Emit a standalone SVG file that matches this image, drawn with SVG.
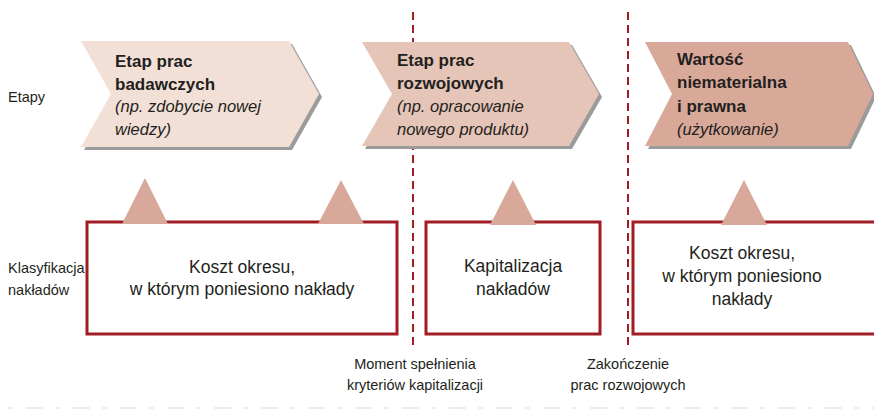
<svg xmlns="http://www.w3.org/2000/svg" width="874" height="409" viewBox="0 0 874 409">
<style>
  text { font-family: "Liberation Sans", Arial, sans-serif; fill: #231f20; }
  .lbl { font-size: 14.5px; }
  .bold { font-size: 17px; font-weight: bold; }
  .ital { font-size: 16.5px; font-style: italic; }
  .box { fill: #ffffff; stroke: #a01d24; stroke-width: 3; }
  .tri { fill: #d8a99a; }
  .shadow { fill: #9b9b9b; }
  .boxtxt { font-size: 17.5px; text-anchor: middle; }
  .mile { font-size: 14.5px; text-anchor: middle; }
  .dash { stroke: #a01d24; stroke-width: 2; stroke-dasharray: 8 5; fill: none; }
</style>
<rect width="874" height="409" fill="#ffffff"/>
<path d="M8,408 H874" stroke="#ececec" stroke-width="2" stroke-dasharray="5 13 17 12"/>
<g id="connectors">
  <line class="dash" x1="413" y1="12" x2="413" y2="345"/>
  <line class="dash" x1="628" y1="12" x2="628" y2="345"/>
</g>
<text class="lbl" x="8" y="102">Etapy</text>
<text class="lbl" x="8" y="273">Klasyfikacja</text>
<text class="lbl" x="8" y="295">nakładów</text>
<g id="stage1">
  <path class="shadow" transform="translate(3,3)" d="M81,41 L289,41 L319,94 L289,147 L81,147 L111,94 Z"/>
  <path fill="#f2e0d7" d="M81,41 L289,41 L319,94 L289,147 L81,147 L111,94 Z"/>
  <text class="bold" x="115" y="67">Etap prac</text>
  <text class="bold" x="115" y="90">badawczych</text>
  <text class="ital" x="115" y="112">(np. zdobycie nowej</text>
  <text class="ital" x="115" y="135">wiedzy)</text>
</g>
<g id="stage2">
  <path class="shadow" transform="translate(3,3)" d="M362,42 L569,42 L599,94 L569,146 L362,146 L392,94 Z"/>
  <path fill="#e5c5b8" d="M362,42 L569,42 L599,94 L569,146 L362,146 L392,94 Z"/>
  <text class="bold" x="397" y="66">Etap prac</text>
  <text class="bold" x="397" y="89">rozwojowych</text>
  <text class="ital" x="397" y="112">(np. opracowanie</text>
  <text class="ital" x="397" y="135">nowego produktu)</text>
</g>
<g id="stage3">
  <path class="shadow" transform="translate(3,3)" d="M645,42 L848,42 L873,94 L848,146 L645,146 L672,94 Z"/>
  <path fill="#d8a899" d="M645,42 L848,42 L873,94 L848,146 L645,146 L672,94 Z"/>
  <text class="bold" x="677" y="65">Wartość</text>
  <text class="bold" x="677" y="88">niematerialna</text>
  <text class="bold" x="677" y="112">i prawna</text>
  <text class="ital" x="677" y="135">(użytkowanie)</text>
</g>
<g id="cost1">
  <rect class="box" x="87" y="222" width="310" height="112"/>
  <path class="tri" d="M145,178 L168,224 L122,224 Z"/>
  <path class="tri" d="M341,180 L364,224 L318,224 Z"/>
  <text class="boxtxt" x="242" y="273">Koszt okresu,</text>
  <text class="boxtxt" x="242" y="295">w którym poniesiono nakłady</text>
</g>
<g id="capitalization">
  <rect class="box" x="426" y="222" width="174" height="112"/>
  <path class="tri" d="M513,180 L536,225 L490,225 Z"/>
  <text class="boxtxt" x="513" y="272">Kapitalizacja</text>
  <text class="boxtxt" x="513" y="295">nakładów</text>
</g>
<g id="cost2">
  <rect class="box" x="633" y="222" width="260" height="112"/>
  <path class="tri" d="M744,180 L767,225 L721,225 Z"/>
  <text class="boxtxt" x="742" y="259">Koszt okresu,</text>
  <text class="boxtxt" x="742" y="282">w którym poniesiono</text>
  <text class="boxtxt" x="742" y="305">nakłady</text>
</g>
<g id="milestone1">
  <text class="mile" x="415" y="369">Moment spełnienia</text>
  <text class="mile" x="415" y="390">kryteriów kapitalizacji</text>
</g>
<g id="milestone2">
  <text class="mile" x="628" y="369">Zakończenie</text>
  <text class="mile" x="628" y="390">prac rozwojowych</text>
</g>
</svg>
